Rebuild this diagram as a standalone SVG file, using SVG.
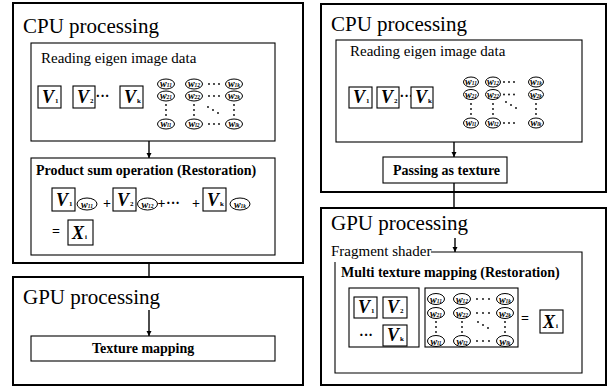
<svg xmlns="http://www.w3.org/2000/svg" width="608" height="387" viewBox="0 0 608 387" font-family="'Liberation Serif', 'Times New Roman', Tinos, 'DejaVu Serif', serif">
  <defs>
    <style>
      text { font-family: "Liberation Serif", "Times New Roman", Tinos, "DejaVu Serif", serif; fill: #000; }
      .outer { fill: #fff; stroke: #000; stroke-width: 2; }
      .box { fill: #fff; stroke: #000; stroke-width: 1.1; }
      .open { fill: none; stroke: #000; stroke-width: 1.1; }
      .vbox { fill: #fff; stroke: #000; stroke-width: 1.1; }
      .el { fill: #fff; stroke: #000; stroke-width: 1; }
      .wire { stroke: #000; stroke-width: 1.4; fill: none; }
      .h1 { font-size: 21px; }
      .h2 { font-size: 15px; }
      .h3 { font-size: 14px; font-weight: bold; }
      .v { font-size: 18px; font-style: italic; font-weight: bold; }
      .sub { font-size: 7px; font-style: normal; }
      .w { font-size: 10px; font-style: italic; font-weight: bold; text-anchor: middle; }
      .ws { font-size: 5.5px; }
      .op { font-size: 14px; font-weight: bold; }
      .dot { fill: #000; }
    </style>
    <marker id="arrow" viewBox="0 0 10 10" refX="10" refY="5" markerWidth="5" markerHeight="6" markerUnits="userSpaceOnUse" orient="auto">
      <path d="M0,0 L10,5 L0,10 z" fill="#000"/>
    </marker>
  </defs>
  <rect width="608" height="387" fill="#fff"/>

  <!-- Left: CPU processing -->
  <g id="left-cpu">
    <rect class="outer" x="13" y="3" width="290" height="260"/>
    <text class="h1" x="23" y="33">CPU processing</text>
  </g>

  <g id="left-reading">
    <rect class="box" x="31" y="43" width="244" height="98"/>
    <text class="h2" x="41" y="63">Reading eigen image data</text>
    <rect class="vbox" x="38" y="86" width="23" height="22"/>
    <text class="v" x="42" y="103">V<tspan class="sub" dx="1">1</tspan></text>
    <rect class="vbox" x="73" y="86" width="22" height="22"/>
    <text class="v" x="77" y="103">V<tspan class="sub" dx="1">2</tspan></text>
    <text class="op" x="95.5" y="101">···</text>
    <rect class="vbox" x="120" y="86" width="23" height="22"/>
    <text class="v" x="124" y="103">V<tspan class="sub" dx="1">k</tspan></text>
    <!-- weight matrix -->
    <ellipse class="el" cx="166" cy="84" rx="8.5" ry="5"/>
    <text class="w" x="166" y="87">w<tspan class="ws">11</tspan></text>
    <ellipse class="el" cx="194" cy="84" rx="8.5" ry="5"/>
    <text class="w" x="194" y="87">w<tspan class="ws">12</tspan></text>
    <ellipse class="el" cx="234" cy="84" rx="8.5" ry="5"/>
    <text class="w" x="234" y="87">w<tspan class="ws">1k</tspan></text>
    <ellipse class="el" cx="166" cy="96" rx="8.5" ry="5"/>
    <text class="w" x="166" y="99">w<tspan class="ws">21</tspan></text>
    <ellipse class="el" cx="194" cy="96" rx="8.5" ry="5"/>
    <text class="w" x="194" y="99">w<tspan class="ws">22</tspan></text>
    <ellipse class="el" cx="234" cy="96" rx="8.5" ry="5"/>
    <text class="w" x="234" y="99">w<tspan class="ws">2k</tspan></text>
    <ellipse class="el" cx="166" cy="124" rx="8.5" ry="5"/>
    <text class="w" x="166" y="127">w<tspan class="ws">l1</tspan></text>
    <ellipse class="el" cx="194" cy="124" rx="8.5" ry="5"/>
    <text class="w" x="194" y="127">w<tspan class="ws">l2</tspan></text>
    <ellipse class="el" cx="234" cy="124" rx="8.5" ry="5"/>
    <text class="w" x="234" y="127">w<tspan class="ws">lk</tspan></text>
    <g class="dot">
      <circle cx="209" cy="84" r="0.9"/><circle cx="214" cy="84" r="0.9"/><circle cx="219" cy="84" r="0.9"/>
      <circle cx="209" cy="96" r="0.9"/><circle cx="214" cy="96" r="0.9"/><circle cx="219" cy="96" r="0.9"/>
      <circle cx="209" cy="124" r="0.9"/><circle cx="214" cy="124" r="0.9"/><circle cx="219" cy="124" r="0.9"/>
      <circle cx="166" cy="105" r="0.9"/><circle cx="166" cy="110" r="0.9"/><circle cx="166" cy="115" r="0.9"/>
      <circle cx="194" cy="105" r="0.9"/><circle cx="194" cy="110" r="0.9"/><circle cx="194" cy="115" r="0.9"/>
      <circle cx="234" cy="105" r="0.9"/><circle cx="234" cy="110" r="0.9"/><circle cx="234" cy="115" r="0.9"/>
      <circle cx="208" cy="107" r="0.9"/><circle cx="213" cy="110" r="0.9"/><circle cx="218" cy="113" r="0.9"/>
    </g>
  </g>

  <g id="left-product">
    <rect class="box" x="31" y="158" width="244" height="97"/>
    <text class="h3" x="36" y="175">Product sum operation (Restoration)</text>
    <rect class="vbox" x="52" y="188" width="23" height="23"/>
    <text class="v" x="56" y="206">V<tspan class="sub" dx="1">1</tspan></text>
    <ellipse class="el" cx="87" cy="204" rx="10" ry="6"/>
    <text class="w" x="87" y="207.5">w<tspan class="ws">11</tspan></text>
    <text class="op" x="103" y="208">+</text>
    <rect class="vbox" x="113" y="188" width="23" height="23"/>
    <text class="v" x="117" y="206">V<tspan class="sub" dx="1">2</tspan></text>
    <ellipse class="el" cx="147.5" cy="204" rx="10" ry="6"/>
    <text class="w" x="147.5" y="207.5">w<tspan class="ws">12</tspan></text>
    <text class="op" x="157.5" y="208">+</text>
    <text class="op" x="166" y="208">···</text>
    <text class="op" x="192" y="208">+</text>
    <rect class="vbox" x="203" y="188" width="23" height="23"/>
    <text class="v" x="207" y="206">V<tspan class="sub" dx="1">k</tspan></text>
    <ellipse class="el" cx="240" cy="204" rx="10" ry="6"/>
    <text class="w" x="240" y="207.5">w<tspan class="ws">1k</tspan></text>
    <text class="op" x="52" y="236" font-size="16">=</text>
    <rect class="vbox" x="68" y="220" width="25" height="25"/>
    <text class="v" x="72" y="239">X<tspan class="sub" dx="1">i</tspan></text>
  </g>

  <!-- Left: GPU processing -->
  <g id="left-gpu">
    <rect class="outer" x="13" y="277" width="290" height="108"/>
    <text class="h1" x="23" y="304">GPU processing</text>
  </g>
  <g id="left-texture">
    <rect class="box" x="31" y="336" width="244" height="25"/>
    <text class="h3" x="92" y="353">Texture mapping</text>
  </g>

  <!-- Right: CPU processing -->
  <g id="right-cpu">
    <rect class="outer" x="321" y="4" width="285" height="188"/>
    <text class="h1" x="331" y="31">CPU processing</text>
  </g>

  <g id="right-reading">
    <rect class="box" x="336" y="40" width="246" height="102"/>
    <text class="h2" x="350" y="56">Reading eigen image data</text>
    <rect class="vbox" x="349" y="87" width="23" height="21"/>
    <text class="v" x="353" y="103">V<tspan class="sub" dx="1">1</tspan></text>
    <rect class="vbox" x="377" y="87" width="22" height="21"/>
    <text class="v" x="381" y="103">V<tspan class="sub" dx="1">2</tspan></text>
    <text class="op" x="399.5" y="101">···</text>
    <rect class="vbox" x="411" y="87" width="22" height="21"/>
    <text class="v" x="415" y="103">V<tspan class="sub" dx="1">k</tspan></text>
    <ellipse class="el" cx="471" cy="82" rx="7.5" ry="5"/>
    <text class="w" x="471" y="85">w<tspan class="ws">11</tspan></text>
    <ellipse class="el" cx="493" cy="82" rx="7.5" ry="5"/>
    <text class="w" x="493" y="85">w<tspan class="ws">12</tspan></text>
    <ellipse class="el" cx="536" cy="82" rx="7.5" ry="5"/>
    <text class="w" x="536" y="85">w<tspan class="ws">1k</tspan></text>
    <ellipse class="el" cx="471" cy="94.5" rx="7.5" ry="5"/>
    <text class="w" x="471" y="97.5">w<tspan class="ws">21</tspan></text>
    <ellipse class="el" cx="493" cy="94.5" rx="7.5" ry="5"/>
    <text class="w" x="493" y="97.5">w<tspan class="ws">22</tspan></text>
    <ellipse class="el" cx="536" cy="94.5" rx="7.5" ry="5"/>
    <text class="w" x="536" y="97.5">w<tspan class="ws">2k</tspan></text>
    <ellipse class="el" cx="471" cy="123" rx="7.5" ry="5"/>
    <text class="w" x="471" y="126">w<tspan class="ws">l1</tspan></text>
    <ellipse class="el" cx="493" cy="123" rx="7.5" ry="5"/>
    <text class="w" x="493" y="126">w<tspan class="ws">l2</tspan></text>
    <ellipse class="el" cx="536" cy="123" rx="7.5" ry="5"/>
    <text class="w" x="536" y="126">w<tspan class="ws">lk</tspan></text>
    <g class="dot">
      <circle cx="504" cy="82" r="0.9"/><circle cx="509" cy="82" r="0.9"/><circle cx="514" cy="82" r="0.9"/>
      <circle cx="504" cy="94.5" r="0.9"/><circle cx="509" cy="94.5" r="0.9"/><circle cx="514" cy="94.5" r="0.9"/>
      <circle cx="504" cy="123" r="0.9"/><circle cx="509" cy="123" r="0.9"/><circle cx="514" cy="123" r="0.9"/>
      <circle cx="471" cy="104" r="0.9"/><circle cx="471" cy="109" r="0.9"/><circle cx="471" cy="114" r="0.9"/>
      <circle cx="493" cy="104" r="0.9"/><circle cx="493" cy="109" r="0.9"/><circle cx="493" cy="114" r="0.9"/>
      <circle cx="536" cy="104" r="0.9"/><circle cx="536" cy="109" r="0.9"/><circle cx="536" cy="114" r="0.9"/>
      <circle cx="506" cy="102" r="0.9"/><circle cx="511" cy="105" r="0.9"/><circle cx="516" cy="108" r="0.9"/>
    </g>
  </g>

  <g id="right-passing">
    <rect class="box" x="383" y="157" width="124" height="26"/>
    <text class="h3" x="393" y="175">Passing as texture</text>
  </g>

  <!-- Right: GPU processing -->
  <g id="right-gpu">
    <rect class="outer" x="321" y="208" width="285" height="177"/>
    <text class="h1" x="331" y="230">GPU processing</text>
  </g>

  <g id="fragment-shader">
    <path class="open" d="M431,252 H582 V373 H335 V262"/>
    <text class="h2" x="331" y="256" font-size="14.5">Fragment shader</text>
  </g>

  <g id="multi-texture">
    <text class="h3" x="341" y="277">Multi texture mapping (Restoration)</text>
    <rect class="box" x="349" y="288" width="70" height="59"/>
    <rect class="vbox" x="354" y="297" width="23" height="21"/>
    <text class="v" x="358" y="313">V<tspan class="sub" dx="1">1</tspan></text>
    <rect class="vbox" x="383" y="297" width="24" height="21"/>
    <text class="v" x="387" y="313">V<tspan class="sub" dx="1">2</tspan></text>
    <text class="op" x="359" y="340">···</text>
    <rect class="vbox" x="383" y="325" width="24" height="21"/>
    <text class="v" x="387" y="341">V<tspan class="sub" dx="1">k</tspan></text>

    <rect class="box" x="425" y="288" width="93" height="59"/>
    <ellipse class="el" cx="436" cy="299" rx="8.5" ry="5.5"/>
    <text class="w" x="436" y="302.5">w<tspan class="ws">11</tspan></text>
    <ellipse class="el" cx="462" cy="299" rx="8.5" ry="5.5"/>
    <text class="w" x="462" y="302.5">w<tspan class="ws">12</tspan></text>
    <ellipse class="el" cx="505" cy="299" rx="8.5" ry="5.5"/>
    <text class="w" x="505" y="302.5">w<tspan class="ws">1k</tspan></text>
    <ellipse class="el" cx="436" cy="313" rx="8.5" ry="5.5"/>
    <text class="w" x="436" y="316.5">w<tspan class="ws">21</tspan></text>
    <ellipse class="el" cx="462" cy="313" rx="8.5" ry="5.5"/>
    <text class="w" x="462" y="316.5">w<tspan class="ws">22</tspan></text>
    <ellipse class="el" cx="505" cy="313" rx="8.5" ry="5.5"/>
    <text class="w" x="505" y="316.5">w<tspan class="ws">2k</tspan></text>
    <ellipse class="el" cx="436" cy="341" rx="8.5" ry="5.5"/>
    <text class="w" x="436" y="344.5">w<tspan class="ws">l1</tspan></text>
    <ellipse class="el" cx="462" cy="341" rx="8.5" ry="5.5"/>
    <text class="w" x="462" y="344.5">w<tspan class="ws">l2</tspan></text>
    <ellipse class="el" cx="505" cy="341" rx="8.5" ry="5.5"/>
    <text class="w" x="505" y="344.5">w<tspan class="ws">lk</tspan></text>
    <g class="dot">
      <circle cx="477" cy="299" r="0.9"/><circle cx="483" cy="299" r="0.9"/><circle cx="489" cy="299" r="0.9"/>
      <circle cx="477" cy="313" r="0.9"/><circle cx="483" cy="313" r="0.9"/><circle cx="489" cy="313" r="0.9"/>
      <circle cx="477" cy="341" r="0.9"/><circle cx="483" cy="341" r="0.9"/><circle cx="489" cy="341" r="0.9"/>
      <circle cx="436" cy="322" r="0.9"/><circle cx="436" cy="327" r="0.9"/><circle cx="436" cy="332" r="0.9"/>
      <circle cx="462" cy="322" r="0.9"/><circle cx="462" cy="327" r="0.9"/><circle cx="462" cy="332" r="0.9"/>
      <circle cx="505" cy="322" r="0.9"/><circle cx="505" cy="327" r="0.9"/><circle cx="505" cy="332" r="0.9"/>
      <circle cx="478" cy="322" r="0.9"/><circle cx="483" cy="325" r="0.9"/><circle cx="488" cy="328" r="0.9"/>
    </g>
    <text class="op" x="521" y="323" font-size="16">=</text>
    <rect class="vbox" x="540" y="310" width="23" height="23"/>
    <text class="v" x="543" y="328">X<tspan class="sub" dx="1">i</tspan></text>
  </g>

  <!-- Connectors -->
  <g id="connectors">
    <line class="wire" x1="149" y1="141" x2="149" y2="158" marker-end="url(#arrow)"/>
    <line class="wire" x1="149" y1="263" x2="149" y2="277"/>
    <line class="wire" x1="149" y1="310" x2="149" y2="336" marker-end="url(#arrow)"/>
    <line class="wire" x1="454" y1="142" x2="454" y2="157" marker-end="url(#arrow)"/>
    <line class="wire" x1="454" y1="183" x2="454" y2="208"/>
    <line class="wire" x1="455" y1="238" x2="455" y2="252" marker-end="url(#arrow)"/>
  </g>
</svg>
